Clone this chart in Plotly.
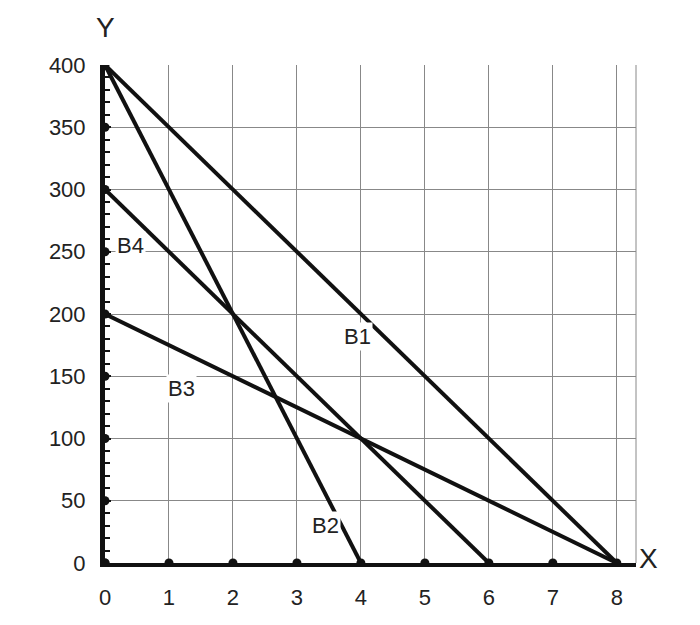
import plotly.graph_objects as go

line_names = ["B1", "B2", "B3", "B4"]
x_intercepts = [8, 4, 8, 6]
y_intercepts = [400, 400, 200, 300]
label_x = [3.95, 3.45, 1.2, 0.4]
label_y = [182, 30, 140, 255]
x_ticks = [0, 1, 2, 3, 4, 5, 6, 7, 8]
y_ticks = [0, 50, 100, 150, 200, 250, 300, 350, 400]

F = "Liberation Sans"
fig = go.Figure()
for n, xi, yi in zip(line_names, x_intercepts, y_intercepts):
    fig.add_trace(go.Scatter(x=[0, xi], y=[yi, 0], mode="lines",
                             line=dict(color="#111", width=4), showlegend=False))
fig.add_trace(go.Scatter(x=x_ticks, y=[0]*len(x_ticks), mode="markers",
                         marker=dict(color="#111", size=9), showlegend=False))
fig.add_trace(go.Scatter(x=[0]*len(y_ticks), y=y_ticks, mode="markers",
                         marker=dict(color="#111", size=9), showlegend=False))
for n, lx, ly in zip(line_names, label_x, label_y):
    fig.add_annotation(x=lx, y=ly, text=n, showarrow=False, bgcolor="white",
                       font=dict(size=22, color="#222", family=F))
fig.add_annotation(x=0, y=400, text="Y", showarrow=False,
                   yshift=38, font=dict(size=28, color="#222", family=F))
fig.add_annotation(x=8, y=0, text="X", showarrow=False, xshift=32, yshift=5,
                   font=dict(size=28, color="#222", family=F))

fig.update_xaxes(range=[0, 8.3], tickvals=x_ticks, showgrid=True, gridcolor="#888",
                 gridwidth=1, zeroline=False, showline=True, linecolor="#111", linewidth=4,
                 ticks="", ticklabelstandoff=12,
                 tickfont=dict(size=22, color="#222", family=F))
fig.update_yaxes(range=[0, 400], tickvals=y_ticks, showgrid=True, gridcolor="#888",
                 gridwidth=1, zeroline=False, showline=True, linecolor="#111", linewidth=5,
                 ticks="inside", ticklen=6, tickwidth=2, tickcolor="#111",
                 minor=dict(dtick=10, ticks="inside", ticklen=5, tickwidth=2, tickcolor="#111", showgrid=False),
                 ticklabelstandoff=10,
                 tickfont=dict(size=22, color="#222", family=F))
fig.add_shape(type="line", xref="paper", yref="paper", x0=1, x1=1, y0=0, y1=1,
              line=dict(color="#888", width=1))
fig.update_layout(width=700, height=625, plot_bgcolor="white", paper_bgcolor="white",
                  margin=dict(l=97, r=72, t=57, b=70))
fig.write_html("out.html")
